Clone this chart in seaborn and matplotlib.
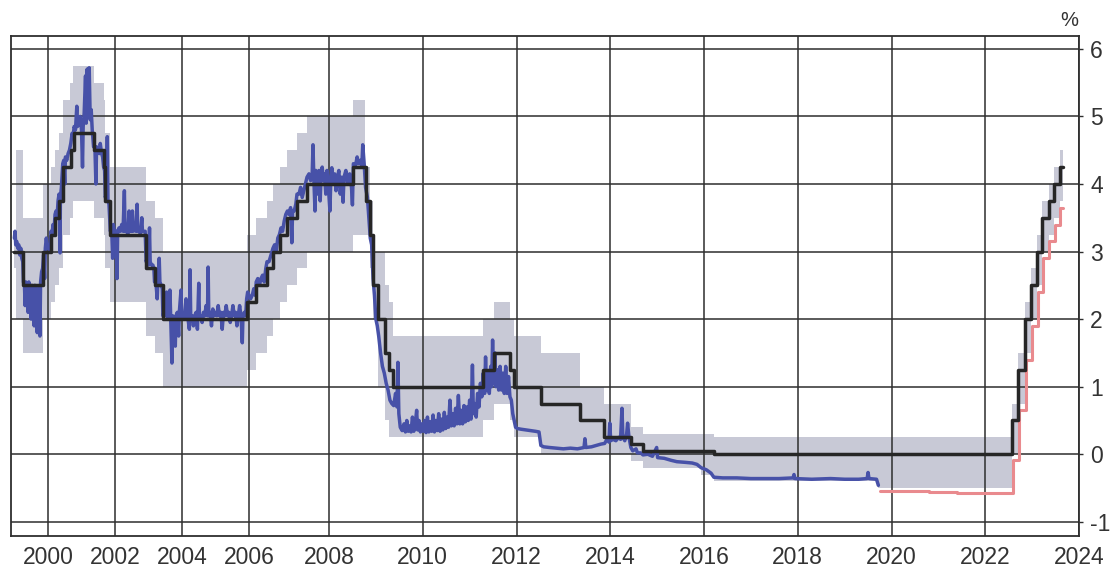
import numpy as np
import pandas as pd
import matplotlib
matplotlib.use("Agg")
import matplotlib.pyplot as plt
import seaborn as sns

# ---------------- data ----------------
# ECB main refinancing rate (step), decimal years
mro_t = [1999.00, 1999.27, 1999.85, 2000.09, 2000.21, 2000.32, 2000.44, 2000.68, 2000.78,
         2001.36, 2001.66, 2001.71, 2001.86, 2002.93, 2003.18, 2003.43, 2005.93, 2006.18,
         2006.45, 2006.61, 2006.78, 2006.95, 2007.20, 2007.45, 2008.52, 2008.79, 2008.87,
         2008.94, 2009.05, 2009.19, 2009.27, 2009.36, 2011.28, 2011.53, 2011.86, 2011.95,
         2012.52, 2013.35, 2013.87, 2014.44, 2014.69, 2016.21, 2022.57, 2022.70, 2022.84,
         2022.97, 2023.10, 2023.22, 2023.36, 2023.47, 2023.59, 2023.65]
mro_v = [3.00, 2.50, 3.00, 3.25, 3.50, 3.75, 4.25, 4.50, 4.75,
         4.50, 4.25, 3.75, 3.25, 2.75, 2.50, 2.00, 2.25, 2.50,
         2.75, 3.00, 3.25, 3.50, 3.75, 4.00, 4.25, 3.75, 3.25,
         2.50, 2.00, 1.50, 1.25, 1.00, 1.25, 1.50, 1.25, 1.00,
         0.75, 0.50, 0.25, 0.15, 0.05, 0.00, 0.50, 1.25, 2.00,
         2.50, 3.00, 3.50, 3.75, 4.00, 4.25, 4.25]

# Corridor: deposit facility (lower) and marginal lending facility (upper)
band_t = [1999.00, 1999.06, 1999.27, 1999.85, 2000.09, 2000.21, 2000.32, 2000.44, 2000.67,
          2000.76, 2001.36, 2001.66, 2001.71, 2001.86, 2002.93, 2003.18, 2003.43, 2005.93,
          2006.18, 2006.45, 2006.61, 2006.78, 2006.95, 2007.20, 2007.45, 2008.52, 2008.77,
          2008.87, 2008.94, 2009.05, 2009.19, 2009.27, 2009.36, 2011.28, 2011.53, 2011.86,
          2011.95, 2012.52, 2013.35, 2013.87, 2014.44, 2014.69, 2015.94, 2016.21, 2019.71,
          2022.57, 2022.70, 2022.84, 2022.97, 2023.10, 2023.22, 2023.36, 2023.47, 2023.59,
          2023.65]
dfr_v = [2.75, 2.00, 1.50, 2.00, 2.25, 2.50, 2.75, 3.25, 3.50,
         3.75, 3.50, 3.25, 2.75, 2.25, 1.75, 1.50, 1.00, 1.25,
         1.50, 1.75, 2.00, 2.25, 2.50, 2.75, 3.00, 3.25, 3.25,
         2.75, 2.00, 1.00, 0.50, 0.25, 0.25, 0.50, 0.75, 0.50,
         0.25, 0.00, 0.00, 0.00, -0.10, -0.20, -0.30, -0.40, -0.50,
         0.00, 0.75, 1.50, 2.00, 2.50, 3.00, 3.25, 3.50, 3.75,
         3.75]
mlf_v = [3.25, 4.50, 3.50, 4.00, 4.25, 4.50, 4.75, 5.25, 5.50,
         5.75, 5.50, 5.25, 4.75, 4.25, 3.75, 3.50, 3.00, 3.25,
         3.50, 3.75, 4.00, 4.25, 4.50, 4.75, 5.00, 5.25, 4.25,
         3.75, 3.00, 3.00, 2.50, 2.25, 1.75, 2.00, 2.25, 2.00,
         1.75, 1.50, 1.00, 0.75, 0.40, 0.30, 0.30, 0.25, 0.25,
         0.75, 1.50, 2.25, 2.75, 3.25, 3.75, 4.00, 4.25, 4.50,
         4.50]

# EONIA (blue)
eonia = [
    (1999.00, 3.20), (1999.02, 3.30), (1999.04, 3.10), (1999.07, 3.15), (1999.10, 3.05),
    (1999.13, 3.10), (1999.16, 2.95), (1999.19, 3.05), (1999.22, 2.90), (1999.25, 2.85),
    (1999.27, 2.55), (1999.30, 2.50), (1999.32, 2.20), (1999.34, 2.55), (1999.38, 2.50),
    (1999.41, 2.10), (1999.43, 2.55), (1999.47, 2.45), (1999.50, 2.00), (1999.52, 2.50),
    (1999.56, 2.45), (1999.59, 1.90), (1999.61, 2.50), (1999.65, 2.40), (1999.68, 1.80),
    (1999.70, 2.45), (1999.73, 2.40), (1999.76, 1.75), (1999.78, 2.55), (1999.81, 2.70),
    (1999.84, 2.75), (1999.87, 2.95), (1999.90, 2.60), (1999.92, 3.05), (1999.95, 3.20),
    (1999.98, 3.05), (2000.02, 3.10), (2000.06, 3.00), (2000.09, 3.30), (2000.12, 3.25),
    (2000.15, 3.40), (2000.18, 3.30), (2000.21, 3.55), (2000.24, 3.60), (2000.27, 3.50),
    (2000.30, 3.75), (2000.33, 3.85), (2000.36, 2.98), (2000.37, 3.80), (2000.40, 3.95),
    (2000.44, 4.30), (2000.47, 4.35), (2000.50, 4.00), (2000.52, 4.40), (2000.56, 4.35),
    (2000.60, 4.45), (2000.64, 4.50), (2000.68, 4.60), (2000.72, 4.75), (2000.75, 4.70),
    (2000.78, 4.85), (2000.82, 4.80), (2000.86, 5.15), (2000.88, 4.85), (2000.92, 4.90),
    (2000.96, 5.00), (2001.00, 4.80), (2001.03, 4.25), (2001.05, 4.85), (2001.08, 5.05),
    (2001.12, 5.60), (2001.14, 4.90), (2001.17, 5.70), (2001.20, 5.00), (2001.23, 5.72),
    (2001.26, 4.95), (2001.29, 5.10), (2001.32, 4.80), (2001.36, 4.55), (2001.40, 4.55),
    (2001.43, 4.00), (2001.45, 4.55), (2001.49, 4.50), (2001.53, 4.45), (2001.56, 4.60),
    (2001.60, 4.45), (2001.63, 4.40), (2001.66, 4.25), (2001.69, 4.20), (2001.71, 3.80),
    (2001.74, 3.85), (2001.77, 4.70), (2001.79, 3.75), (2001.82, 3.70), (2001.86, 3.30),
    (2001.90, 3.35), (2001.93, 2.90), (2001.95, 3.40), (2001.98, 3.30), (2002.03, 3.30),
    (2002.06, 2.60), (2002.08, 3.30), (2002.12, 3.35), (2002.16, 3.30), (2002.20, 3.40),
    (2002.24, 3.30), (2002.28, 3.90), (2002.30, 3.30), (2002.34, 3.35), (2002.38, 3.25),
    (2002.42, 3.60), (2002.44, 3.30), (2002.48, 3.30), (2002.52, 3.60), (2002.54, 3.30),
    (2002.58, 3.35), (2002.62, 3.30), (2002.66, 3.70), (2002.68, 3.30), (2002.72, 3.35),
    (2002.76, 3.25), (2002.80, 3.50), (2002.82, 3.30), (2002.86, 3.30), (2002.90, 3.30),
    (2002.93, 2.85), (2002.96, 2.90), (2003.00, 2.80), (2003.03, 3.35), (2003.05, 2.85),
    (2003.09, 2.80), (2003.13, 2.80), (2003.16, 2.75), (2003.18, 2.55), (2003.22, 2.55),
    (2003.26, 2.30), (2003.28, 2.55), (2003.32, 2.90), (2003.34, 2.55), (2003.38, 2.50),
    (2003.41, 2.45), (2003.43, 2.05), (2003.47, 2.10), (2003.50, 2.05), (2003.54, 2.40),
    (2003.56, 2.05), (2003.60, 2.00), (2003.64, 2.43), (2003.66, 2.05), (2003.70, 1.35),
    (2003.72, 2.05), (2003.76, 2.00), (2003.80, 1.60), (2003.82, 2.05), (2003.86, 2.10),
    (2003.90, 1.75), (2003.92, 2.10), (2003.97, 2.43), (2003.99, 2.05), (2004.04, 2.00),
    (2004.08, 2.05), (2004.12, 2.30), (2004.14, 2.05), (2004.18, 2.00), (2004.22, 1.85),
    (2004.24, 2.73), (2004.26, 2.05), (2004.30, 2.05), (2004.34, 1.90), (2004.38, 2.05),
    (2004.42, 2.10), (2004.46, 1.85), (2004.50, 2.53), (2004.52, 2.05), (2004.56, 2.05),
    (2004.60, 1.95), (2004.64, 2.10), (2004.68, 2.05), (2004.72, 2.20), (2004.76, 2.05),
    (2004.78, 2.77), (2004.80, 2.05), (2004.84, 2.10), (2004.88, 1.90), (2004.92, 2.15),
    (2004.96, 2.05), (2005.00, 2.10), (2005.04, 2.05), (2005.08, 2.20), (2005.12, 2.05),
    (2005.16, 2.10), (2005.20, 1.85), (2005.24, 2.10), (2005.28, 2.05), (2005.32, 2.20),
    (2005.36, 2.05), (2005.40, 2.10), (2005.44, 1.95), (2005.48, 2.05), (2005.52, 2.20),
    (2005.56, 2.05), (2005.60, 2.10), (2005.64, 1.90), (2005.68, 2.05), (2005.72, 2.20),
    (2005.76, 2.05), (2005.80, 1.65), (2005.82, 2.05), (2005.86, 2.10), (2005.90, 2.05),
    (2005.93, 2.30), (2005.96, 2.40), (2006.00, 2.35), (2006.04, 2.30), (2006.08, 2.35),
    (2006.12, 2.45), (2006.16, 2.35), (2006.18, 2.55), (2006.22, 2.60), (2006.26, 2.50),
    (2006.30, 2.60), (2006.34, 2.65), (2006.38, 2.55), (2006.42, 2.75), (2006.45, 2.85),
    (2006.50, 2.85), (2006.55, 2.95), (2006.60, 3.05), (2006.64, 3.10), (2006.68, 3.00),
    (2006.72, 3.20), (2006.76, 3.25), (2006.80, 3.35), (2006.84, 3.30), (2006.88, 3.45),
    (2006.92, 3.55), (2006.96, 3.60), (2007.00, 3.55), (2007.04, 3.65), (2007.07, 3.13),
    (2007.09, 3.60), (2007.13, 3.60), (2007.17, 3.70), (2007.20, 3.85), (2007.25, 3.85),
    (2007.29, 3.95), (2007.33, 3.80), (2007.37, 3.90), (2007.41, 4.00), (2007.45, 4.10),
    (2007.50, 4.15), (2007.54, 4.05), (2007.58, 4.15), (2007.60, 4.58), (2007.62, 4.10),
    (2007.65, 3.60), (2007.67, 4.20), (2007.70, 3.85), (2007.72, 4.15), (2007.75, 4.20),
    (2007.78, 3.75), (2007.80, 4.10), (2007.83, 4.25), (2007.86, 4.05), (2007.89, 4.15),
    (2007.92, 3.85), (2007.95, 4.20), (2007.98, 4.00), (2008.02, 3.60), (2008.04, 4.10),
    (2008.06, 4.24), (2008.09, 4.00), (2008.12, 4.15), (2008.15, 3.90), (2008.18, 4.10),
    (2008.21, 4.20), (2008.24, 3.85), (2008.27, 4.10), (2008.30, 3.73), (2008.32, 4.10),
    (2008.36, 4.20), (2008.40, 4.00), (2008.44, 4.15), (2008.48, 3.95), (2008.50, 3.69),
    (2008.52, 4.30), (2008.56, 4.25), (2008.60, 4.40), (2008.63, 4.30), (2008.67, 4.35),
    (2008.70, 4.25), (2008.72, 4.58), (2008.75, 4.30), (2008.78, 3.95), (2008.82, 3.80),
    (2008.85, 3.50), (2008.88, 3.20), (2008.91, 3.10), (2008.94, 2.60), (2008.97, 2.35),
    (2009.00, 2.00), (2009.03, 1.90), (2009.06, 1.75), (2009.10, 1.50), (2009.14, 1.30),
    (2009.18, 1.20), (2009.22, 1.05), (2009.26, 0.95), (2009.30, 0.80), (2009.34, 0.75),
    (2009.38, 0.72), (2009.42, 0.90), (2009.45, 0.70), (2009.47, 1.36), (2009.49, 0.60),
    (2009.52, 0.40), (2009.56, 0.35), (2009.60, 0.45), (2009.63, 0.33), (2009.66, 0.50),
    (2009.69, 0.34), (2009.72, 0.42), (2009.75, 0.33), (2009.78, 0.55), (2009.81, 0.34),
    (2009.84, 0.45), (2009.87, 0.65), (2009.89, 0.36), (2009.92, 0.50), (2009.95, 0.33),
    (2009.98, 0.45), (2010.01, 0.34), (2010.04, 0.50), (2010.07, 0.32), (2010.10, 0.55),
    (2010.13, 0.33), (2010.16, 0.48), (2010.19, 0.34), (2010.22, 0.58), (2010.25, 0.33),
    (2010.28, 0.50), (2010.31, 0.35), (2010.34, 0.60), (2010.37, 0.34), (2010.40, 0.52),
    (2010.43, 0.36), (2010.46, 0.62), (2010.49, 0.38), (2010.52, 0.55), (2010.55, 0.40),
    (2010.58, 0.80), (2010.61, 0.42), (2010.64, 0.60), (2010.67, 0.42), (2010.70, 0.68),
    (2010.73, 0.45), (2010.76, 0.87), (2010.79, 0.45), (2010.82, 0.65), (2010.85, 0.45),
    (2010.88, 0.72), (2010.91, 0.48), (2010.94, 0.70), (2010.97, 0.50), (2011.00, 0.80),
    (2011.03, 0.52), (2011.06, 1.32), (2011.08, 0.60), (2011.11, 0.75), (2011.14, 0.55),
    (2011.17, 0.90), (2011.20, 0.70), (2011.23, 1.05), (2011.26, 0.85), (2011.29, 1.20),
    (2011.32, 0.90), (2011.34, 1.44), (2011.36, 0.95), (2011.39, 1.20), (2011.42, 0.90),
    (2011.45, 1.30), (2011.47, 1.00), (2011.49, 1.69), (2011.51, 1.05), (2011.54, 1.50),
    (2011.56, 1.00), (2011.59, 1.25), (2011.62, 0.95), (2011.65, 1.30), (2011.68, 0.95),
    (2011.71, 1.20), (2011.74, 0.90), (2011.77, 1.30), (2011.80, 0.90), (2011.83, 1.15),
    (2011.86, 0.85), (2011.89, 0.80), (2011.92, 0.60), (2011.95, 0.50), (2011.98, 0.40),
    (2012.02, 0.38), (2012.10, 0.37), (2012.20, 0.36), (2012.30, 0.35), (2012.40, 0.34),
    (2012.48, 0.33), (2012.52, 0.13), (2012.58, 0.11), (2012.70, 0.10), (2012.85, 0.09),
    (2013.00, 0.08), (2013.15, 0.09), (2013.30, 0.08), (2013.44, 0.10), (2013.46, 0.23),
    (2013.48, 0.10), (2013.60, 0.11), (2013.70, 0.13), (2013.80, 0.15), (2013.88, 0.16),
    (2013.93, 0.22), (2013.97, 0.18), (2013.99, 0.46), (2014.01, 0.20), (2014.06, 0.22),
    (2014.12, 0.20), (2014.18, 0.25), (2014.22, 0.22), (2014.25, 0.68), (2014.27, 0.25),
    (2014.31, 0.20), (2014.35, 0.30), (2014.37, 0.46), (2014.40, 0.25), (2014.44, 0.10),
    (2014.48, 0.05), (2014.55, 0.08), (2014.58, 0.02), (2014.65, 0.02), (2014.70, -0.01),
    (2014.80, 0.00), (2014.90, -0.03), (2014.99, 0.10), (2015.01, -0.05), (2015.15, -0.06),
    (2015.30, -0.09), (2015.42, -0.11), (2015.60, -0.12), (2015.75, -0.13), (2015.85, -0.15),
    (2015.94, -0.20), (2016.05, -0.23), (2016.15, -0.28), (2016.21, -0.34), (2016.40, -0.35),
    (2016.70, -0.35), (2017.00, -0.36), (2017.30, -0.36), (2017.60, -0.36), (2017.90, -0.35),
    (2017.92, -0.30), (2017.94, -0.36), (2018.30, -0.37), (2018.70, -0.36), (2019.00, -0.37),
    (2019.30, -0.37), (2019.48, -0.36), (2019.50, -0.27), (2019.52, -0.36), (2019.68, -0.37),
    (2019.72, -0.46),
]

# €STR (red)
ester_t = [2019.76, 2020.20, 2020.80, 2021.40, 2022.00, 2022.55, 2022.60, 2022.72, 2022.86,
           2022.99, 2023.12, 2023.24, 2023.37, 2023.49, 2023.60, 2023.65]
ester_v = [-0.55, -0.54, -0.56, -0.57, -0.58, -0.58, -0.09, 0.66, 1.40,
           1.90, 2.40, 2.90, 3.15, 3.40, 3.65, 3.65]

x_ticks = list(range(2000, 2025, 2))
y_ticks = list(range(-1, 7))

# ---------------- styling ----------------
GREY = "#c8c9d6"
BLUE = "#4751a8"
BLACK = "#262626"
RED = "#e98a8e"
GRID = "#2e2e2e"

sns.set_theme(style="white")
plt.rcParams["font.family"] = ["Liberation Sans", "DejaVu Sans"]
plt.rcParams["axes.unicode_minus"] = False

fig = plt.figure(figsize=(11.12, 5.67), dpi=100)
W, H = 1112, 567
ax = fig.add_axes([11 / W, 1 - 536 / H, (1079 - 11) / W, (536 - 36) / H])

df_e = pd.DataFrame(eonia, columns=["t", "v"])
df_m = pd.DataFrame({"t": mro_t, "v": mro_v})
df_s = pd.DataFrame({"t": ester_t, "v": ester_v})

ax.fill_between(band_t, dfr_v, mlf_v, step="post", color=GREY, lw=0, zorder=1)
sns.lineplot(data=df_e, x="t", y="v", color=BLUE, lw=2.5, estimator=None, sort=False,
             ax=ax, zorder=3)
sns.lineplot(data=df_s, x="t", y="v", color=RED, lw=2.2, estimator=None, sort=False,
             drawstyle="steps-post", ax=ax, zorder=4)
sns.lineplot(data=df_m, x="t", y="v", color=BLACK, lw=2.5, estimator=None, sort=False,
             drawstyle="steps-post", ax=ax, zorder=5)

# piecewise-linear time axis as in the source picture
KY = np.array([1998.9, 2000.0, 2006.0, 2008.0, 2024.0])
KP = np.array([11.0, 48.0, 249.0, 329.0, 1079.0])


def _pl(x, xs, ys):
    x = np.asarray(x, dtype=float)
    y = np.interp(x, xs, ys)
    s0 = (ys[1] - ys[0]) / (xs[1] - xs[0])
    s1 = (ys[-1] - ys[-2]) / (xs[-1] - xs[-2])
    y = np.where(x < xs[0], ys[0] + (x - xs[0]) * s0, y)
    y = np.where(x > xs[-1], ys[-1] + (x - xs[-1]) * s1, y)
    return y


ax.set_xscale("function", functions=(lambda x: _pl(x, KY, KP), lambda p: _pl(p, KP, KY)))
ax.set_xlim(1998.9, 2024.0)
ax.set_ylim(-1.21, 6.19)
ax.set_xticks(x_ticks)
ax.set_xticklabels([str(t) for t in x_ticks])
ax.set_yticks(y_ticks)
ax.set_yticklabels([str(t) for t in y_ticks])
ax.yaxis.tick_right()
ax.set_xlabel("")
ax.set_ylabel("")

ax.set_axisbelow(False)
ax.grid(True, color=GRID, lw=1.1)
for s in ax.spines.values():
    s.set_visible(True)
    s.set_color(GRID)
    s.set_linewidth(1.3)

ax.tick_params(axis="both", which="major", direction="out", length=3, width=1,
               color=GRID, labelsize=16.5, labelcolor="#333333")
ax.tick_params(axis="x", pad=4)
ax.tick_params(axis="y", pad=5, right=True, left=False)

fig.text(1078 / W, 1 - 21 / H, "%", ha="right", va="center", fontsize=14.5, color="#333333")

fig.savefig("out.png", dpi=100)
